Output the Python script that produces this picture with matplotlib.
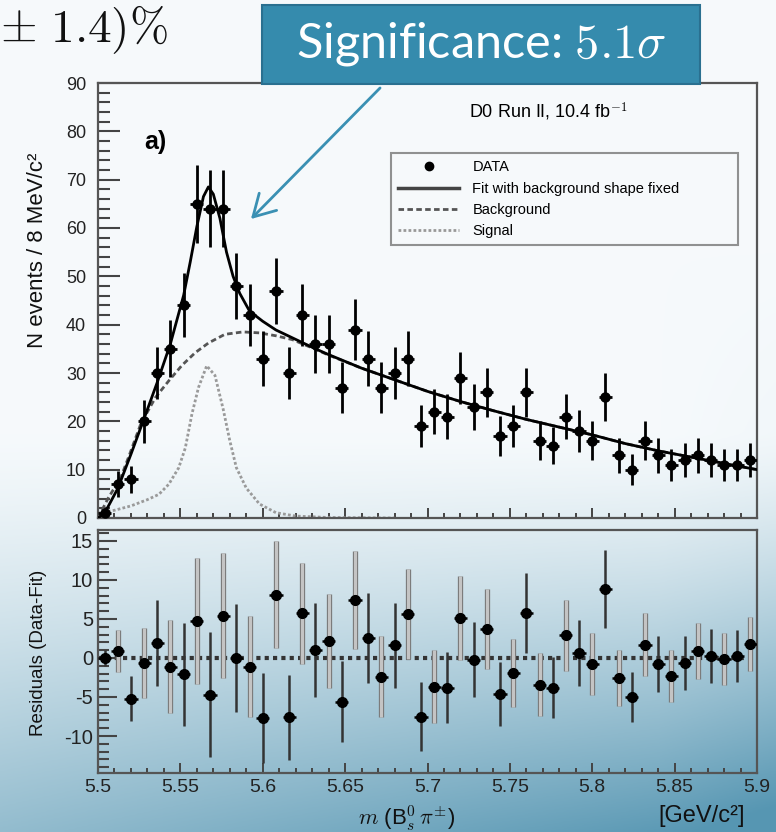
import numpy as np
import matplotlib.pyplot as plt
from matplotlib.lines import Line2D
from matplotlib.patches import Rectangle, FancyArrowPatch
from matplotlib.ticker import MultipleLocator, FormatStrFormatter

plt.rcParams['font.family'] = ['Liberation Sans', 'DejaVu Sans']
plt.rcParams['mathtext.fontset'] = 'cm'
plt.rcParams['axes.unicode_minus'] = False

# Data: events per 8 MeV/c^2 bin, 5.5 - 5.9 GeV/c^2
bin_lo = 5.5
bin_width = 0.008
counts = [1, 7, 8, 20, 30, 35, 44, 65, 64, 64,
          48, 42, 33, 47, 30, 42, 36, 36, 27, 39,
          33, 27, 30, 33, 19, 22, 21, 29, 23, 26,
          17, 19, 26, 16, 15, 21, 18, 16, 25, 13,
          10, 16, 13, 11, 12, 13, 12, 11, 11, 12]
residuals = [0.0, 0.9, -5.2, -0.6, 1.9, -1.1, -2.1, 4.7, -4.7, 5.4,
             0.0, -1.1, -7.7, 8.1, -7.6, 5.7, 1.0, 2.2, -5.6, 7.4,
             2.6, -2.4, 1.6, 5.6, -7.5, -3.7, -3.8, 5.1, -0.2, 3.7,
             -4.6, -1.9, 5.8, -3.4, -3.8, 2.9, 0.6, -0.8, 8.8, -2.6,
             -5.0, 1.7, -0.8, -2.3, -0.7, 0.9, 0.3, -0.1, 0.3, 1.8]

# Curves
fit_m = [5.500, 5.504, 5.512, 5.520, 5.528, 5.536, 5.544, 5.552, 5.556, 5.560,
         5.564, 5.567, 5.570, 5.574, 5.578, 5.582, 5.586, 5.592, 5.600, 5.608,
         5.616, 5.624, 5.632, 5.640, 5.660, 5.680, 5.700, 5.720, 5.740, 5.760,
         5.780, 5.800, 5.820, 5.840, 5.860, 5.880, 5.900]
fit_n = [0.0, 1.0, 6.1, 13.2, 20.6, 28.1, 36.1, 46.1, 53.0, 60.3,
         66.5, 68.5, 67.0, 62.0, 55.0, 50.0, 46.5, 42.8, 40.7, 38.9,
         37.6, 36.3, 35.0, 33.8, 31.0, 28.6, 26.2, 24.1, 22.2, 20.4,
         18.8, 17.2, 15.4, 13.9, 12.6, 11.3, 10.0]

bkg_m = [5.500, 5.506, 5.514, 5.519, 5.526, 5.535, 5.543, 5.551, 5.559, 5.567,
         5.577, 5.588, 5.598, 5.608, 5.618, 5.632, 5.640, 5.660, 5.680, 5.700,
         5.720, 5.740, 5.760, 5.780, 5.800, 5.820, 5.840, 5.860, 5.880, 5.900]
bkg_n = [0.0, 4.0, 8.5, 13.0, 19.5, 25.0, 28.4, 31.6, 34.2, 36.2,
         38.0, 38.5, 38.3, 37.7, 36.9, 34.9, 33.7, 31.0, 28.6, 26.2,
         24.1, 22.2, 20.4, 18.8, 17.2, 15.4, 13.9, 12.6, 11.3, 10.0]

sig_m = [5.500, 5.510, 5.520, 5.530, 5.537, 5.543, 5.549, 5.553, 5.557, 5.561,
         5.566, 5.571, 5.576, 5.580, 5.584, 5.590, 5.598, 5.608, 5.620, 5.640,
         5.680]
sig_n = [1.0, 1.6, 2.5, 3.8, 4.9, 7.0, 10.4, 14.5, 21.5, 27.0,
         31.5, 29.5, 22.5, 16.0, 10.4, 6.2, 2.9, 1.1, 0.4, 0.1,
         0.0]

mass = bin_lo + bin_width * (np.arange(len(counts)) + 0.5)
err = np.sqrt(counts)

W, H = 776, 832
fig = plt.figure(figsize=(W / 100, H / 100), dpi=100)

# slide background gradient
bg = fig.add_axes([0, 0, 1, 1], zorder=-10)
yy, xx = np.mgrid[0:1:300j, 0:1:300j]
t = np.clip((yy - 0.52) / 0.48, 0, 1) ** 1.3 * (0.62 + 0.4 * xx)
t = np.clip(t + 0.06 * np.clip((yy - 0.3) / 0.5, 0, 1) * np.clip((xx - 0.85) / 0.15, 0, 1), 0, 1)
top = np.array([0.965, 0.980, 0.988])
bot = np.array([0.34, 0.59, 0.70])
img = top + t[..., None] * (bot - top)
bg.imshow(img, extent=[0, 1, 0, 1], aspect='auto', origin='upper')
bg.axis('off')

def px(x, y):
    return x / W, 1 - y / H

ax1 = fig.add_axes([98 / W, 1 - 518 / H, 659 / W, 435 / H])
ax2 = fig.add_axes([98 / W, 1 - 773 / H, 659 / W, 243 / H])
for ax in (ax1, ax2):
    ax.set_facecolor('none')
    for s in ax.spines.values():
        s.set_color('#555555')
        s.set_linewidth(1.6)
    ax.set_xlim(5.5, 5.9)
    ax.xaxis.set_major_locator(MultipleLocator(0.05))
    ax.xaxis.set_minor_locator(MultipleLocator(0.01))
    ax.tick_params(axis='x', which='major', direction='in', length=7, width=1.4,
                   color='#444444', top=False)
    ax.tick_params(axis='x', which='minor', direction='in', length=3.6, width=1.4,
                   color='#444444', top=False)

# upper panel
ax1.plot(sig_m, sig_n, color='#9a9a9a', lw=2, ls=(0, (1, 0.8)), zorder=2)
ax1.plot(bkg_m, bkg_n, color='#555555', lw=2, ls=(0, (2, 1.2)), zorder=3)
ax1.plot(fit_m, fit_n, color='black', lw=2, zorder=4)
ax1.errorbar(mass, counts, yerr=err, xerr=bin_width / 2, fmt='o', color='black',
             ms=6.5, elinewidth=2, capsize=0, zorder=5)
ax1.set_ylim(0, 90)
ax1.yaxis.set_major_locator(MultipleLocator(10))
ax1.yaxis.set_minor_locator(MultipleLocator(2))
ax1.tick_params(axis='y', which='major', direction='in', length=15.8, width=1.5,
                color='#444444', right=False, labelsize=13, pad=8.5, labelcolor='#222222')
ax1.tick_params(axis='y', which='minor', direction='in', length=8.6, width=1.5,
                color='#444444', right=False)
ax1.tick_params(axis='x', labelbottom=False)

ax1.text(0.0865, 0.864, 'a)', transform=ax1.transAxes, fontsize=18,
         fontweight='bold', ha='center', va='center')
ax1.text(0.683, 0.933, r'D0 Run II, 10.4 fb$^{-1}$', transform=ax1.transAxes,
         fontsize=13, ha='center', va='center')

handles = [Line2D([], [], marker='o', color='black', ls='none', ms=6),
           Line2D([], [], color='#444444', lw=2.5),
           Line2D([], [], color='#555555', lw=2, ls=(0, (2, 1.2))),
           Line2D([], [], color='#999999', lw=2, ls=(0, (1, 0.8)))]
leg = ax1.legend(handles, ['DATA', 'Fit with background shape fixed', 'Background', 'Signal'],
                 loc='upper left', bbox_to_anchor=(0.444, 0.625, 0.527, 0.214),
                 mode='expand', borderaxespad=0, fontsize=10.5, handlelength=4.2,
                 handletextpad=0.9, labelspacing=0.5, fancybox=False, borderpad=0.5)
leg.get_frame().set_edgecolor('#777777')
leg.get_frame().set_linewidth(1.5)
leg.get_frame().set_facecolor('none')

# lower panel: residuals
ax2.axhline(0, color='#333333', lw=3, ls=(0, (1, 1)), zorder=1)
for k in range(len(mass)):
    if k % 2 == 1:
        ax2.errorbar(mass[k], residuals[k], yerr=err[k], fmt='none', ecolor='#7a7a7a',
                     elinewidth=3.8, capsize=0, zorder=2)
        ax2.errorbar(mass[k], residuals[k], yerr=err[k], fmt='none', ecolor='#c4c4c4',
                     elinewidth=2.2, capsize=0, zorder=2)
    else:
        ax2.errorbar(mass[k], residuals[k], yerr=err[k], fmt='none', ecolor='#333333',
                     elinewidth=1.8, capsize=0, zorder=2)
ax2.errorbar(mass, residuals, xerr=bin_width / 2, fmt='o', color='black', ms=7,
             elinewidth=1.8, capsize=0, zorder=3)
ax2.set_ylim(-14.74, 16.4)
ax2.yaxis.set_major_locator(MultipleLocator(5))
ax2.yaxis.set_minor_locator(MultipleLocator(1))
ax2.tick_params(axis='y', which='major', direction='in', length=13.7, width=1.5,
                color='#444444', right=False, labelsize=14.5, pad=3.6, labelcolor='#222222')
ax2.tick_params(axis='y', which='minor', direction='in', length=8, width=1.5,
                color='#444444', right=False)
ax2.tick_params(axis='x', which='major', labelsize=14, pad=4, labelcolor='#222222')
ax2.xaxis.set_major_formatter(FormatStrFormatter('%g'))

# axis titles
fig.text(*px(38, 250), 'N events / 8 MeV/c²', rotation=90, ha='center', va='center',
         fontsize=16, color='#111111')
fig.text(*px(39, 653), 'Residuals (Data-Fit)', rotation=90, ha='center', va='center',
         fontsize=13.5, color='#111111')
fig.text(*px(407, 818), r'$m$ (B$^0_s\,\pi^{\pm}$)', ha='center', va='center',
         fontsize=16, color='#111111')
fig.text(*px(702, 816), '[GeV/c²]', ha='center', va='center', fontsize=17,
         color='#111111')

# slide decorations
fig.text(*px(0, 30), r'$\pm\ 1.4)\%$', ha='left', va='center', fontsize=34,
         color='#111111')
box = Rectangle(px(262, 84), 438 / W, 79 / H, transform=fig.transFigure,
                facecolor='#358bad', edgecolor='#2a7090', lw=1.5, zorder=20)
fig.patches.append(box)
fig.text(*px(481, 44), r'Significance: $5.1\sigma$', ha='center', va='center',
         fontsize=35, color='white', family=['Lato', 'DejaVu Sans'], zorder=21)
arrow = FancyArrowPatch(px(382, 86), px(249, 221), transform=fig.transFigure,
                        arrowstyle='->,head_length=0.7,head_width=0.4', mutation_scale=22,
                        color='#3a90b3', lw=2, zorder=20)
fig.patches.append(arrow)

fig.savefig('out.png', dpi=100)
